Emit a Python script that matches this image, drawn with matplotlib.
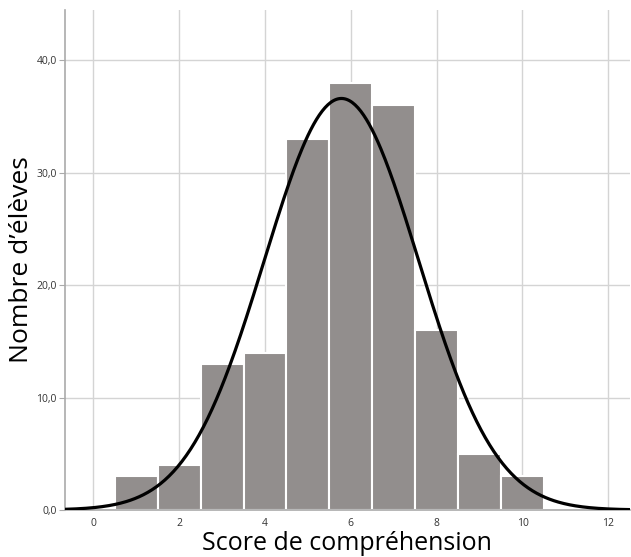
import numpy as np
import matplotlib
matplotlib.use("Agg")
import matplotlib.pyplot as plt
from matplotlib.ticker import FuncFormatter

# score values and number of pupils per score
scores = [1, 2, 3, 4, 5, 6, 7, 8, 9, 10]
counts = [3, 4, 13, 14, 33, 38, 36, 16, 5, 3]

x_ticks = [0, 2, 4, 6, 8, 10, 12]
y_ticks = [0, 10, 20, 30, 40]

plt.rcParams['font.family'] = ['Open Sans', 'DejaVu Sans']

fig = plt.figure(figsize=(6.31, 5.57), dpi=100)
ax = fig.add_axes([0.103, 0.0844, 0.895, 0.898])

ax.bar(scores, counts, width=1.0, color='#928e8d', edgecolor='white',
       linewidth=1.5, zorder=2)

# normal curve fitted on the histogram data
s = np.array(scores, dtype=float)
c = np.array(counts, dtype=float)
n = c.sum()
mean = (s * c).sum() / n
sd = np.sqrt(((s - mean) ** 2 * c).sum() / (n - 1))
xs = np.linspace(-0.7, 12.6, 400)
ys = n * 1.0 / (sd * np.sqrt(2 * np.pi)) * np.exp(-0.5 * ((xs - mean) / sd) ** 2)
ax.plot(xs, ys, color='black', linewidth=2.3, zorder=3)

ax.set_xlim(-0.66, 12.5)
ax.set_ylim(0, 44.5)
ax.set_xticks(x_ticks)
ax.set_yticks(y_ticks)
ax.yaxis.set_major_formatter(FuncFormatter(lambda v, p: f"{v:.1f}".replace('.', ',')))
ax.tick_params(length=0, labelsize=7.5, colors='#333333', pad=6)
ax.tick_params(axis='y', length=4, color='#aaaaaa', pad=2)

ax.grid(True, color='#d4d4d4', linewidth=1.0, zorder=0)
ax.set_axisbelow(True)
for side in ['top', 'right']:
    ax.spines[side].set_visible(False)
for side in ['left', 'bottom']:
    ax.spines[side].set_color('#aaaaaa')
    ax.spines[side].set_linewidth(1.2)

ax.set_xlabel('Score de compréhension', fontsize=18, labelpad=1)
ax.set_ylabel('Nombre d’élèves', fontsize=19, labelpad=2)

fig.savefig('out.png', dpi=100)
